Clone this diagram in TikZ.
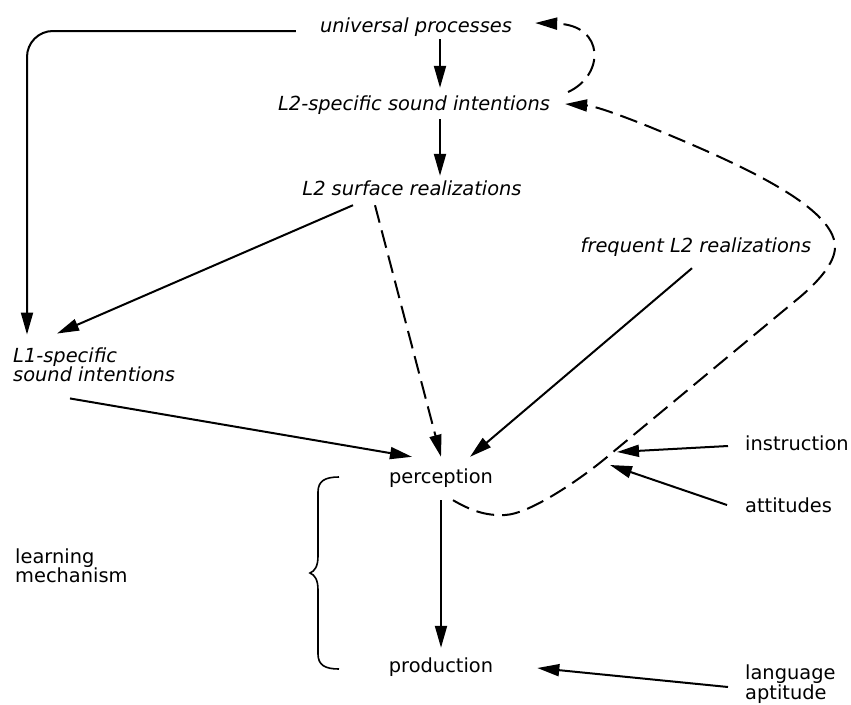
\documentclass[tikz,border=0pt]{standalone}
\usepackage{fontspec}
\setmainfont{DejaVu Sans}
\usetikzlibrary{arrows.meta,calc}
\begin{document}
\begin{tikzpicture}[x=1pt,y=-1pt,
  lbl/.style={inner sep=0pt, font=\fontsize{19.4}{20}\selectfont, text height=14pt, text depth=4pt},
  ilbl/.style={lbl, font=\fontsize{19.4}{20}\selectfont\itshape},
  mlbl/.style={inner sep=0pt, align=left, font=\fontsize{19.4}{19.5}\selectfont},
  conn/.style={line width=2pt, -{Triangle[length=22pt,width=12pt]}},
  dconn/.style={conn, dash pattern=on 18pt off 8pt},
  bracket/.style={line width=1.6pt},
]
\useasboundingbox (0,0) rectangle (851,704);

% labels
\node[ilbl] (uni)  at (416,27)  {universal processes};
\node[ilbl] (l2s)  at (414,105) {L2-specific sound intentions};
\node[ilbl] (sur)  at (412,190) {L2 surface realizations};
\node[ilbl] (freq) at (696,247) {frequent L2 realizations};
\node[mlbl, font=\fontsize{19.4}{19.5}\selectfont\itshape, anchor=west] (l1) at (13,365) {L1-specific\\sound intentions};
\node[lbl] (pe) at (441,478) {perception};
\node[lbl] (pr) at (441,667) {production};
\node[lbl, anchor=west] (ins) at (745,445) {instruction};
\node[lbl, anchor=west] (att) at (745,507) {attitudes};
\node[mlbl, anchor=west] (lang)  at (745,684) {language\\aptitude};
\node[mlbl, anchor=west] (learn) at (15,566)  {learning\\mechanism};

% free ends of the two influence arrows
\coordinate (insT) at (617,452);
\coordinate (attT) at (610,465);

% solid connectors
\draw[conn] ($(uni.south)+(24,3)$) -- ($(l2s.north)+(26,-8)$);
\draw[conn] ($(l2s.south)+(26,5)$) -- ($(sur.north)+(28,-5)$);
\draw[conn, rounded corners=26pt] ($(uni.west)+(-24,4)$) -| ($(l1.north west)+(14,-13)$);
\draw[conn] ($(sur.south)+(-59,6)$) -- ($(l1.north west)+(44,-14)$);
\draw[conn] ($(freq.south)+(-4,12)$) -- ($(pe.north)+(29,-12)$);
\draw[conn] ($(l1.south west)+(57,16)$) -- ($(pe.north)+(-29,-12)$);
\draw[conn] ($(pe.south)+(0,13)$) -- ($(pr.north)+(0,-10)$);
\draw[conn] ($(ins.west)+(-17,1)$) -- (insT);
\draw[conn] ($(att.west)+(-18,-2)$) -- (attT);
\draw[conn] ($(lang.west)+(-17,3)$) -- ($(pr.east)+(44,1)$);

% dashed connectors
\draw[dconn] ($(sur.south)+(-37,6)$) -- ($(pe.north)+(0,-12)$);
\draw[dconn] ($(pe.south)+(12,13)$)
  .. controls (470,510) and (485,516) .. (505,515)
  .. controls (530,514) and (583,478) .. (613,452)
  -- (800,297)
  .. controls (820,280) and (835,262) .. (835,247)
  .. controls (835,205) and (730,160) .. (650,127)
  .. controls (620,115) and (595,106) .. ($(l2s.east)+(15,-1)$);
\draw[dconn] ($(l2s.east)+(18,-13)$) .. controls (605,75) and (605,25) .. ($(uni.east)+(23,-4)$);

% curly bracket for the learning mechanism
\draw[bracket] (339,477) .. controls (325,477) and (318,481) .. (318,492)
  -- (318,556) .. controls (318,566) and (315,571) .. (310,573)
  .. controls (315,575) and (318,580) .. (318,590)
  -- (318,654) .. controls (318,665) and (325,669) .. (339,669);
\end{tikzpicture}
\end{document}
